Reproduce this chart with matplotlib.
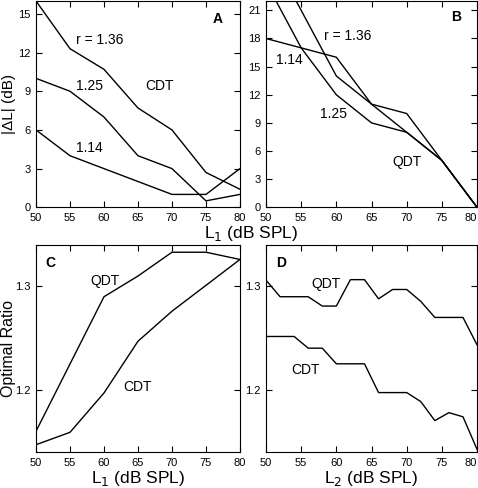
import matplotlib
matplotlib.use("Agg")
import matplotlib.pyplot as plt

plt.rcParams['font.family'] = ['Liberation Sans', 'DejaVu Sans']

# Panel A - CDT, |dL| vs L1
l1 = [50, 55, 60, 65, 70, 75, 80]
cdt_114 = [6, 4, 3, 2, 1, 1, 3]
cdt_125 = [10, 9, 7, 4, 3, 0.5, 1]
cdt_136 = [16, 12.3, 10.7, 7.7, 6, 2.7, 1.4]

# Panel B - QDT, |dL| vs L1
qdt_114 = [18, 17, 16, 11, 10, 5, 0]
qdt_125 = [24, 17, 12, 9, 8, 5, 0]
qdt_136 = [28, 21, 14, 11, 8, 5, 0]

# Panel C - optimal ratio vs L1
ratio_qdt_l1 = [1.16, 1.225, 1.29, 1.31, 1.333, 1.333, 1.326]
ratio_cdt_l1 = [1.147, 1.159, 1.197, 1.247, 1.276, 1.301, 1.326]

# Panel D - optimal ratio vs L2
l2 = [50, 52, 54, 56, 58, 60, 62, 64, 66, 68, 70, 72, 74, 76, 78, 80]
ratio_qdt_l2 = [1.306, 1.29, 1.29, 1.29, 1.281, 1.281, 1.3065, 1.3065,
                1.288, 1.297, 1.297, 1.2855, 1.27, 1.27, 1.27, 1.2435]
ratio_cdt_l2 = [1.2516, 1.2516, 1.2516, 1.2403, 1.2403, 1.2252, 1.2252, 1.2252,
                1.1974, 1.1974, 1.1974, 1.1887, 1.1703, 1.178, 1.174, 1.1426]

fig = plt.figure(figsize=(4.78, 4.88), dpi=100)
axA = fig.add_axes([0.0753, 0.5752, 0.4267, 0.4228])
axB = fig.add_axes([0.5565, 0.5752, 0.4415, 0.4228])
axC = fig.add_axes([0.0753, 0.0738, 0.4267, 0.4242])
axD = fig.add_axes([0.5565, 0.0738, 0.4415, 0.4242])

lw = 1.0
kw = dict(color='black', lw=lw)
tfs = 10
xt = list(range(50, 81, 5))
for ax in (axA, axB, axC, axD):
    ax.set_xlim(50, 80)
    ax.set_xticks(xt)
    ax.tick_params(direction='in', top=True, right=True, labelsize=8, length=4, width=0.8, pad=4)
    for s in ax.spines.values():
        s.set_linewidth(0.8)

# keep the last "80" inside the figure on the right-hand panels
for ax in (axB, axD):
    labs = ax.set_xticklabels([str(v) for v in xt])
    labs[-1].set_horizontalalignment('right')
    labs[-1].set_x(79.9)

# A
axA.plot(l1, cdt_136, **kw)
axA.plot(l1, cdt_125, **kw)
axA.plot(l1, cdt_114, **kw)
axA.set_ylim(0, 16)
axA.set_yticks(range(0, 16, 3))
axA.text(55.9, 13, 'r = 1.36', fontsize=tfs, va='center')
axA.text(55.9, 9.4, '1.25', fontsize=tfs, va='center')
axA.text(55.9, 4.6, '1.14', fontsize=tfs, va='center')
axA.text(68.2, 9.4, 'CDT', fontsize=tfs, va='center', ha='center')
axA.text(0.89, 0.915, 'A', transform=axA.transAxes, fontsize=10, fontweight='bold', va='center', ha='center')
fig.text(0.018, 0.787, '|ΔL| (dB)', fontsize=11, rotation=90, ha='center', va='center')

# B
axB.plot(l1, qdt_136, **kw)
axB.plot(l1, qdt_125, **kw)
axB.plot(l1, qdt_114, **kw)
axB.set_ylim(0, 22)
axB.set_yticks(range(0, 22, 3))
axB.text(58.2, 18.3, 'r = 1.36', fontsize=tfs, va='center')
axB.text(53.3, 15.7, '1.14', fontsize=tfs, va='center', ha='center')
axB.text(59.6, 9.95, '1.25', fontsize=tfs, va='center', ha='center')
axB.text(70.1, 4.8, 'QDT', fontsize=tfs, va='center', ha='center')
axB.text(0.9, 0.92, 'B', transform=axB.transAxes, fontsize=10, fontweight='bold', va='center', ha='center')

fig.text(0.525, 0.522, 'L$_1$ (dB SPL)', fontsize=12.5, ha='center', va='center')

# C
axC.plot(l1, ratio_qdt_l1, **kw)
axC.plot(l1, ratio_cdt_l1, **kw)
axC.set_ylim(1.14, 1.34)
axC.set_yticks([1.2, 1.3])
axC.text(60.2, 1.305, 'QDT', fontsize=tfs, va='center', ha='center')
axC.text(64.9, 1.203, 'CDT', fontsize=tfs, va='center', ha='center')
axC.text(0.07, 0.915, 'C', transform=axC.transAxes, fontsize=10, fontweight='bold', va='center', ha='center')
fig.text(0.018, 0.285, 'Optimal Ratio', fontsize=11.5, rotation=90, ha='center', va='center')
axC.set_xlabel('L$_1$ (dB SPL)', fontsize=12.5, labelpad=1)

# D
axD.plot(l2, ratio_qdt_l2, **kw)
axD.plot(l2, ratio_cdt_l2, **kw)
axD.set_ylim(1.14, 1.34)
axD.set_yticks([1.2, 1.3])
axD.text(58.5, 1.302, 'QDT', fontsize=tfs, va='center', ha='center')
axD.text(55.6, 1.219, 'CDT', fontsize=tfs, va='center', ha='center')
axD.text(0.07, 0.915, 'D', transform=axD.transAxes, fontsize=10, fontweight='bold', va='center', ha='center')
axD.set_xlabel('L$_2$ (dB SPL)', fontsize=12.5, labelpad=1)

fig.savefig('out.png', dpi=100)
